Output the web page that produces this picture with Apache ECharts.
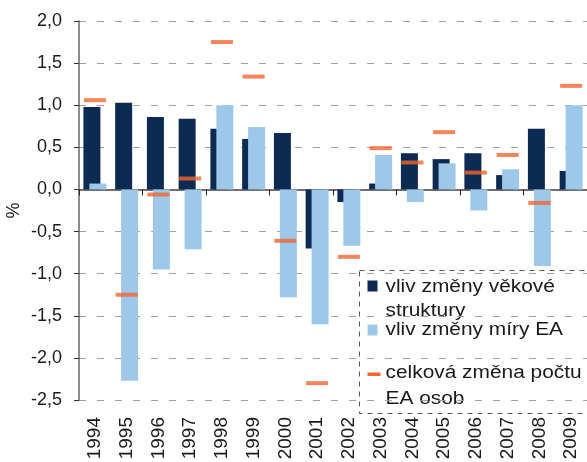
<!DOCTYPE html>
<html>
<head>
<meta charset="utf-8">
<script src="https://cdn.jsdelivr.net/npm/echarts@6/dist/echarts.min.js"></script>
<style>
  html, body { margin: 0; padding: 0; background: #fff; }
  #chart { width: 587px; height: 462px; }
</style>
</head>
<body>
<div id="chart"></div>
<script>
// roky
var years = ["1994", "1995", "1996", "1997", "1998", "1999", "2000", "2001",
  "2002", "2003", "2004", "2005", "2006", "2007", "2008", "2009"];
// vliv změny věkové struktury
var vekova = [0.98, 1.03, 0.86, 0.84, 0.72, 0.60, 0.67, -0.70,
  -0.15, 0.07, 0.43, 0.36, 0.43, 0.17, 0.72, 0.22];
// vliv změny míry EA
var miraEA = [0.07, -2.27, -0.95, -0.71, 1.00, 0.74, -1.28, -1.60,
  -0.67, 0.41, -0.15, 0.31, -0.25, 0.24, -0.91, 1.00];
// celková změna počtu EA osob
var celkem = [1.06, -1.25, -0.06, 0.13, 1.75, 1.34, -0.61, -2.30,
  -0.80, 0.49, 0.32, 0.68, 0.20, 0.41, -0.16, 1.23];
var yTicks = [-2.5, -2.0, -1.5, -1.0, -0.5, 0.0, 0.5, 1.0, 1.5, 2.0];

var dark = "#0c2a52";
var light = "#9ec8ea";
var orange = "#f26530";
var txt = "#1a1a1a";
var font = "Liberation Sans";

// legenda - text je v originale roztazeny do sirky
function legendText(str, y) {
  return {
    type: "text", x: 26, y: y, scaleX: 1.16,
    style: { text: str, fontSize: 18, fontFamily: font, fill: txt, verticalAlign: "middle" }
  };
}

var chart = echarts.init(document.getElementById("chart"));
var option = {
  animation: false,
  textStyle: { fontFamily: font },
  grid: { left: 79, right: 0, top: 21, bottom: 62, containLabel: false, outerBoundsMode: "none" },
  xAxis: [
    {
      type: "category",
      data: years,
      position: "bottom",
      axisLine: { onZero: true, lineStyle: { color: "#707070", width: 2 } },
      axisTick: { show: true, length: 6, lineStyle: { color: "#222" } },
      axisLabel: { show: false },
      splitLine: { show: false }
    },
    {
      type: "category",
      data: years,
      position: "bottom",
      axisLine: { show: false, onZero: false },
      axisTick: { show: false },
      splitLine: { show: false },
      axisLabel: { rotate: 90, fontSize: 19, color: txt, margin: 17, fontFamily: font }
    }
  ],
  yAxis: {
    type: "value",
    min: yTicks[0],
    max: yTicks[yTicks.length - 1],
    interval: 0.5,
    name: "%",
    nameLocation: "middle",
    nameGap: 56,
    nameMoveOverlap: false,
    nameRotate: 90,
    nameTextStyle: { fontSize: 18, color: txt, fontFamily: font },
    axisLine: { show: true, lineStyle: { color: "#666", width: 1.5 } },
    axisTick: { show: true, length: 5, lineStyle: { color: "#333" } },
    axisLabel: {
      fontSize: 18,
      color: txt,
      margin: 17,
      fontFamily: font,
      formatter: function (v) { return v.toFixed(1).replace(".", ","); }
    },
    splitLine: {
      show: true,
      lineStyle: { color: "#a0a0a0", type: [7, 11], width: 1.2 }
    }
  },
  series: [
    {
      name: "vliv změny věkové struktury",
      type: "bar",
      data: vekova,
      barWidth: 17,
      barGap: "-65%",
      itemStyle: { color: dark },
      z: 2
    },
    {
      name: "vliv změny míry EA",
      type: "bar",
      data: miraEA,
      barWidth: 17,
      barGap: "-65%",
      itemStyle: { color: light },
      z: 3
    },
    {
      name: "celková změna počtu EA osob",
      type: "scatter",
      data: celkem,
      symbol: "rect",
      symbolSize: [22, 4],
      itemStyle: { color: orange },
      z: 5
    }
  ],
  graphic: [
    {
      type: "group",
      left: 359,
      top: 270,
      z: 100,
      children: [
        {
          type: "rect",
          shape: { x: 0, y: 0, width: 250, height: 143 },
          style: { fill: "#fff", stroke: "#555", lineWidth: 1, lineDash: [5, 5] }
        },
        { type: "rect", shape: { x: 8, y: 10, width: 10, height: 11 }, style: { fill: dark } },
        legendText("vliv změny věkové", 17),
        legendText("struktury", 41),
        { type: "rect", shape: { x: 8, y: 54, width: 10, height: 11 }, style: { fill: light } },
        legendText("vliv změny míry EA", 60),
        { type: "rect", shape: { x: 8, y: 102, width: 13, height: 3.5 }, style: { fill: orange } },
        legendText("celková změna počtu", 103),
        legendText("EA osob", 129)
      ]
    }
  ]
};
chart.setOption(option);
</script>
</body>
</html>
